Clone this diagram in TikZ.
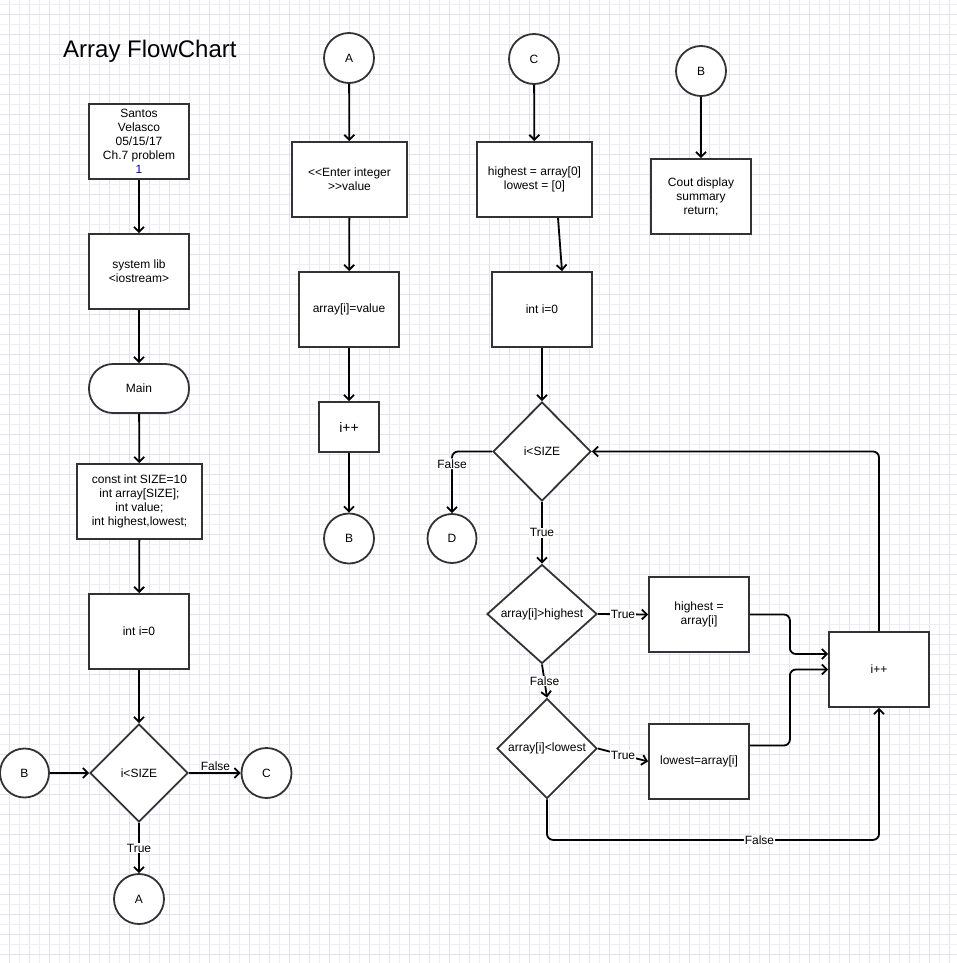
\documentclass[tikz,border=0pt]{standalone}
\usepackage{fontspec}
\setmainfont{Liberation Sans}
\usetikzlibrary{shapes.geometric,arrows.meta}
\definecolor{gridminor}{RGB}{238,238,250}
\definecolor{gridmajor}{RGB}{226,226,246}
\definecolor{edgec}{RGB}{51,51,51}
\definecolor{numblue}{RGB}{0,0,170}
\begin{document}
\begin{tikzpicture}[x=1pt,y=-1pt,
  txt/.style={font=\fontsize{12}{14}\selectfont},
  box/.style={txt,draw=edgec,line width=1.8pt,fill=white,align=center,inner sep=0pt},
  conn/.style={txt,circle,draw=edgec,line width=1.8pt,fill=white,minimum size=50pt,inner sep=0pt},
  dia/.style={txt,diamond,shape aspect=1,draw=edgec,line width=1.8pt,fill=white,inner sep=0pt},
  arr/.style={draw=black,line width=1.8pt,-{Straight Barb[length=5pt,width=10pt]}},
  lbl/.style={txt,fill=white,inner sep=1pt}]
\useasboundingbox (0,0) rectangle (957,963);
\fill[white] (0,0) rectangle (957,963);
% grid
\foreach \i in {0,...,94} {
  \pgfmathsetmacro{\xx}{9.3+10*\i}
  \ifodd\i \def\gc{gridminor}\else \def\gc{gridmajor}\fi
  \draw[\gc,line width=0.8pt] (\xx,0) -- (\xx,963);
}
\foreach \j in {0,...,95} {
  \pgfmathsetmacro{\yy}{4+10*\j}
  \ifodd\j \def\gc{gridmajor}\else \def\gc{gridminor}\fi
  \draw[\gc,line width=0.8pt] (0,\yy) -- (957,\yy);
}
% title
\node[anchor=base west,inner sep=0pt,font=\fontsize{24}{28}\selectfont] (title) at (63,57.3) {Array FlowChart};

% left column
\node[box,minimum width=100pt,minimum height=75pt] (s1) at (139,141.5) {Santos\\Velasco\\05/15/17\\Ch.7 problem\\\textcolor{numblue}{1}};
\node[box,minimum width=100pt,minimum height=75pt] (s2) at (139,271.5) {system lib\\<iostream>};
\node[box,rounded corners=24pt,minimum width=100pt,minimum height=49pt] (main) at (139,388.5) {Main};
\node[box,minimum width=125pt,minimum height=75pt] (decl) at (139.5,501.5) {const int SIZE=10\\int array[SIZE];\\int value;\\int highest,lowest;};
\node[box,minimum width=100pt,minimum height=75pt] (i0a) at (139,631.5) {int i=0};
\node[dia,minimum width=98pt,minimum height=98pt] (d1) at (139,773) {i<SIZE};
\node[conn,minimum size=49pt] (cB1) at (24.5,773) {B};
\node[conn] (cC1) at (266.5,773) {C};
\node[conn] (cA1) at (139,899) {A};

\draw[arr] (s1) -- (s2);
\draw[arr] (s2) -- (main);
\draw[arr] (main) -- (decl);
\draw[arr] (decl) -- (i0a);
\draw[arr] (i0a) -- (d1);
\draw[arr] (cB1) -- (d1.west);
\draw[arr] (d1.east) -- (cC1.west);
\node[lbl] (fl1) at (215.5,766) {False};
\draw[arr] (d1.south) -- node[lbl] (tl1) {True} (cA1.north);

% middle column
\node[conn] (cA2) at (349,58) {A};
\node[box,minimum width=115pt,minimum height=75pt] (e1) at (349.5,179.5) {<{}<Enter integer\\>{}>value};
\node[box,minimum width=100pt,minimum height=75pt] (e2) at (349,309.5) {array[i]=value};
\node[box,minimum width=60pt,minimum height=50pt,font=\fontsize{14}{16}\selectfont] (e3) at (349,427) {i++};
\node[conn] (cB2) at (349,538.5) {B};
\draw[arr] (cA2) -- (e1);
\draw[arr] (e1) -- (e2);
\draw[arr] (e2) -- (e3);
\draw[arr] (e3) -- (cB2);

% third column
\node[conn] (cC2) at (534,59) {C};
\node[box,minimum width=115pt,minimum height=75pt] (h1) at (534.5,179.5) {highest = array[0]\\lowest = [0]};
\node[box,minimum width=100pt,minimum height=75pt] (h2) at (542,309.5) {int i=0};
\node[dia,minimum width=98pt,minimum height=99pt] (d2) at (542,451.5) {i<SIZE};
\node[conn,minimum size=49pt] (cD) at (452,538.5) {D};
\node[dia,minimum width=110pt,minimum height=99pt] (d3) at (542,614) {array[i]>highest};
\node[box,minimum width=100pt,minimum height=75pt] (h3) at (699,614.5) {highest =\\array[i]};
\node[dia,minimum width=100pt,minimum height=100pt] (d4) at (547,748.5) {array[i]<lowest};
\node[box,minimum width=100pt,minimum height=75pt] (h4) at (699,761.5) {lowest=array[i]};
\node[box,minimum width=100pt,minimum height=75pt] (h5) at (879,669.5) {i++};

\draw[arr] (cC2) -- (h1);
\draw[arr] ([xshift=23.5pt]h1.south) -- ([xshift=20pt]h2.north);
\draw[arr] (h2.south) -- (d2.north);
\draw[arr,rounded corners=6pt] (d2.west) -| node[lbl,pos=0.6] (fl2) {False} (cD.north);
\draw[arr] (d2.south) -- node[lbl] (tl2) {True} (d3.north);
\draw[arr] (d3.east) -- node[lbl] (tl3) {True} (h3.west);
\draw[arr] (d3.south) -- node[lbl] (fl3) {False} (d4.north);
\draw[arr] (d4.east) -- node[lbl] (tl4) {True} (h4.west);
\draw[arr,rounded corners=6pt] (h3.east) -- ++(40,0) |- ([yshift=15.5pt]h5.west);
\draw[arr,rounded corners=6pt] ([yshift=16pt]h4.east) -- ++(40,0) |- (h5.west);
\draw[arr,rounded corners=6pt] (h5.north) |- (d2.east);
\draw[arr,rounded corners=6pt] (d4.south) -- ++(0,40.5) -| node[lbl,pos=0.32] (fl4) {False} (h5.south);

% fourth column
\node[conn] (cB3) at (701,71) {B};
\node[box,minimum width=100pt,minimum height=75pt] (cout) at (701,196.5) {Cout display\\summary\\return;};
\draw[arr] (cB3) -- (cout);
\end{tikzpicture}
\end{document}
